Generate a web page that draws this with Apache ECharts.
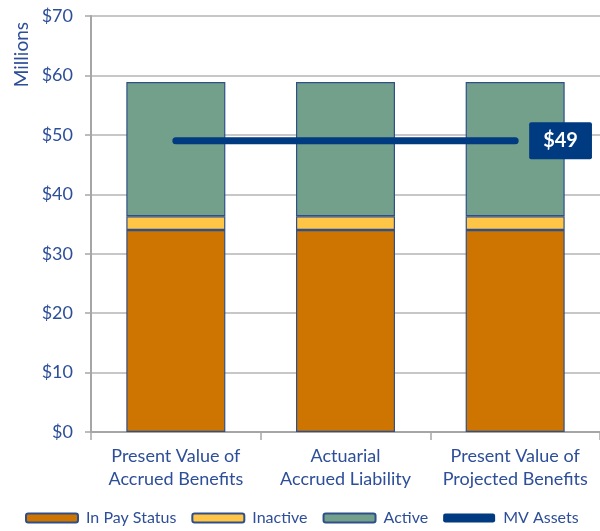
<!DOCTYPE html>
<html>
<head>
<meta charset="utf-8">
<script src="https://cdn.jsdelivr.net/npm/echarts@6/dist/echarts.min.js"></script>
<style>
  html, body { margin: 0; padding: 0; background: #fff; }
  #chart { width: 600px; height: 531px; }
</style>
</head>
<body>
<div id="chart"></div>
<script>
// chart data
const categories = ['Present Value of\nAccrued Benefits', 'Actuarial\nAccrued Liability', 'Present Value of\nProjected Benefits'];
const inPayStatus = [34.0, 34.0, 34.0];
const inactive = [2.3, 2.3, 2.3];
const active = [22.6, 22.6, 22.6];
const mvAssets = [49, 49, 49];
const yTicks = [0, 10, 20, 30, 40, 50, 60, 70];

const blueText = '#2D4E98';
const fontFamily = 'Lato, "Open Sans", sans-serif';
const barBorder = '#2F4F8A';
const lineBlue = '#003A80';

const chart = echarts.init(document.getElementById('chart'), null, { renderer: 'canvas' });

function barSerie(name, data, color) {
  return {
    name: name,
    type: 'bar',
    stack: 'total',
    barWidth: 99,
    data: data,
    itemStyle: { color: color, borderColor: barBorder, borderWidth: 1.2 }
  };
}

chart.setOption({
  animation: false,
  backgroundColor: '#fff',
  textStyle: { fontFamily: fontFamily },
  grid: { left: 91, top: 16, width: 516, height: 416, containLabel: false },
  legend: {
    bottom: 0,
    left: 20,
    itemWidth: 52,
    itemHeight: 9,
    itemGap: 15,
    textStyle: { color: blueText, fontSize: 16, fontFamily: fontFamily, padding: [0, 0, 0, 3] },
    data: [
      'In Pay Status', 'Inactive', 'Active',
      { name: 'MV Assets', icon: 'roundRect', itemStyle: { color: lineBlue, borderWidth: 0 } }
    ]
  },
  xAxis: {
    type: 'category',
    data: categories,
    axisLine: { lineStyle: { color: '#A6A6A6', width: 2 } },
    axisTick: { show: true, length: 8, lineStyle: { color: '#A6A6A6', width: 1.5 } },
    axisLabel: { color: blueText, fontSize: 18, lineHeight: 23, margin: 13, interval: 0 }
  },
  yAxis: {
    type: 'value',
    min: 0,
    max: 70,
    interval: 10,
    axisLine: { show: true, lineStyle: { color: '#A6A6A6', width: 2 } },
    axisTick: { show: true, length: 6, lineStyle: { color: '#A6A6A6', width: 1.5 } },
    splitLine: { lineStyle: { color: '#B4B4B4', width: 1.5 } },
    axisLabel: {
      color: blueText, fontSize: 18, margin: 18,
      formatter: v => yTicks.indexOf(v) >= 0 ? '$' + v : ''
    }
  },
  graphic: [{
    type: 'text',
    left: 12,
    top: 22,
    rotation: Math.PI / 2,
    style: { text: 'Millions', fill: blueText, font: '19px ' + fontFamily }
  }],
  series: [
    barSerie('In Pay Status', inPayStatus, '#CD7500'),
    barSerie('Inactive', inactive, '#FFC546'),
    barSerie('Active', active, '#72A08A'),
    {
      name: 'MV Assets',
      type: 'line',
      data: mvAssets,
      symbol: 'none',
      color: lineBlue,
      lineStyle: { color: lineBlue, width: 7, cap: 'round' },
      endLabel: {
        show: true,
        formatter: '$49',
        color: '#fff',
        fontWeight: 'bold',
        fontSize: 20,
        backgroundColor: lineBlue,
        padding: [9, 14, 8, 14],
        borderRadius: 2,
        distance: 14
      },
      z: 5
    }
  ]
});
</script>
</body>
</html>
